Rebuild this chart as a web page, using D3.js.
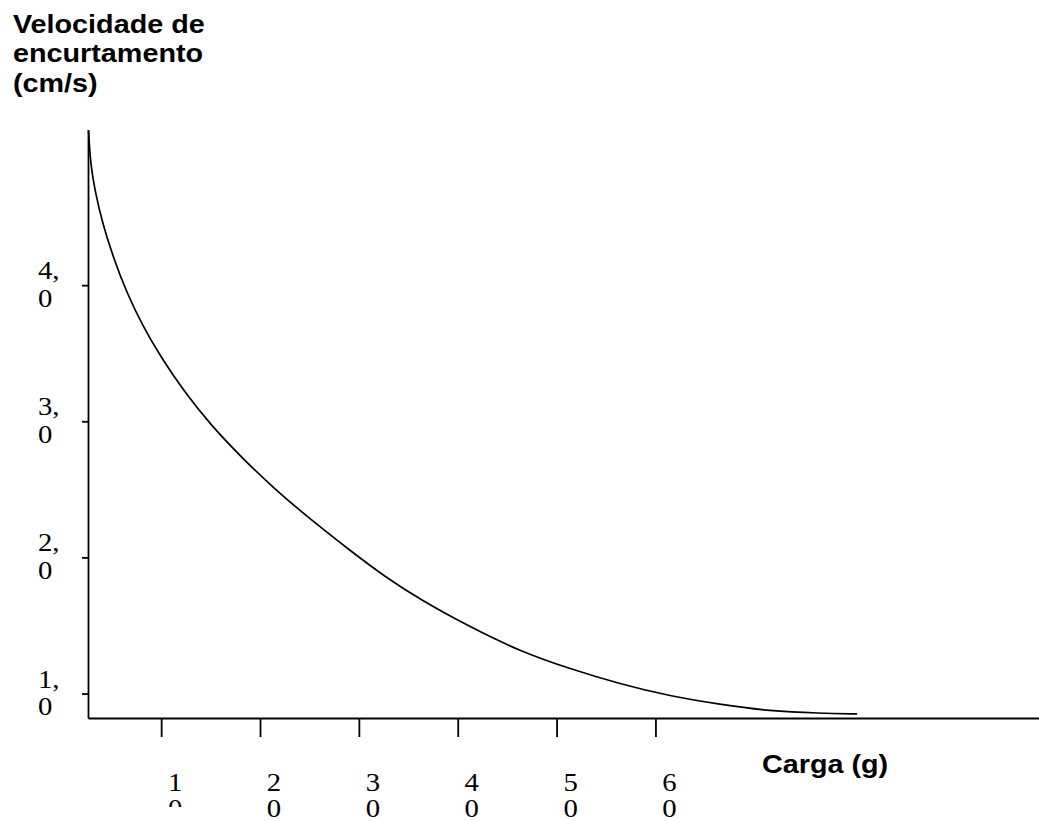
<!DOCTYPE html>
<html>
<head>
<meta charset="utf-8">
<script src="https://cdn.jsdelivr.net/npm/d3@7"></script>
<style>
  body { margin: 0; background: #fff; }
  svg { display: block; }
  .axis path, .axis line { stroke: #000; stroke-width: 1.8; }
  .tick-label { font-family: "Liberation Serif", "Times New Roman", serif; font-size: 25px; fill: #000; }
  .title { font-family: "Liberation Sans", Arial, sans-serif; font-weight: bold; font-size: 25px; fill: #000; }
</style>
</head>
<body>
<div id="chart"></div>
<script>
// data: carga (g) vs velocidade de encurtamento (cm/s)
const carga = [2.65, 2.85, 3.31, 4.12, 5.18, 6.49, 8.06, 9.98, 12.31, 15.04, 18.2, 21.5, 25.6,
  29.3, 32.6, 36.2, 41.2, 46.3, 51.4, 56.4, 61.5, 66.5, 71.6, 76.6, 80.4];
const velocidade = [5.14, 4.89, 4.69, 4.44, 4.20, 3.95, 3.71, 3.47, 3.22, 2.97, 2.73, 2.50, 2.25,
  2.04, 1.86, 1.69, 1.49, 1.31, 1.18, 1.07, 0.98, 0.92, 0.87, 0.855, 0.85];

const xTicks = [10, 20, 30, 40, 50, 60];
const xTickLabels = ['10', '20', '30', '40', '50', '60'];
const yTicks = [1, 2, 3, 4];
const yTickLabels = ['1,0', '2,0', '3,0', '4,0'];

const yTitle = ['Velocidade de', 'encurtamento', '(cm/s)'];
const xTitle = 'Carga (g)';

const width = 1039, height = 821;
const stretch = 1.15; // text in the picture is a little wider than tall

const svg = d3.select('#chart').append('svg')
  .attr('width', width)
  .attr('height', height);

const x = d3.scaleLinear().domain([2.6, 98.8]).range([88, 1039]);
const y = d3.scaleLinear().domain([0.82, 5.14]).range([718, 130]);

// y axis
svg.append('g')
  .attr('class', 'axis')
  .attr('transform', `translate(${x.range()[0]},0)`)
  .call(d3.axisLeft(y).tickValues(yTicks).tickSize(6).tickSizeOuter(0).tickFormat(''));

// x axis
svg.append('g')
  .attr('class', 'axis')
  .attr('transform', `translate(0,${y.range()[0]})`)
  .call(d3.axisBottom(x).tickValues(xTicks).tickSize(19).tickSizeOuter(0).tickFormat(''));

// y tick labels, split on two lines like the source ("4," / "0")
yTicks.forEach((v, i) => {
  const parts = yTickLabels[i].split(',');
  const t = svg.append('text')
    .attr('class', 'tick-label')
    .attr('transform', `translate(38,${y(v) - 6}) scale(${stretch},1)`);
  t.append('tspan').attr('x', 0).attr('dy', 0).text(parts[0] + ',');
  t.append('tspan').attr('x', 0).attr('dy', 28).text(parts[1]);
});

// x tick labels, one digit per line; the first one is cut off in the source
svg.append('clipPath').attr('id', 'clip-first')
  .append('rect').attr('x', 0).attr('y', 0).attr('width', width).attr('height', 807);

xTicks.forEach((v, i) => {
  const digits = xTickLabels[i].split('');
  const g = svg.append('g');
  if (i === 0) g.attr('clip-path', 'url(#clip-first)');
  const t = g.append('text')
    .attr('class', 'tick-label')
    .attr('text-anchor', 'middle')
    .attr('transform', `translate(${x(v) + 14},791) scale(${stretch},1)`);
  digits.forEach((d, k) => {
    t.append('tspan').attr('x', 0).attr('dy', k === 0 ? 0 : 26).text(d);
  });
});

// curve
const line = d3.line()
  .x((d, i) => x(carga[i]))
  .y((d, i) => y(velocidade[i]))
  .curve(d3.curveBasis);

svg.append('path')
  .datum(carga)
  .attr('d', line)
  .attr('fill', 'none')
  .attr('stroke', '#000')
  .attr('stroke-width', 1.7);

// titles
const yt = svg.append('text')
  .attr('class', 'title')
  .attr('transform', `translate(13,33) scale(${stretch},1)`);
yTitle.forEach((s, k) => {
  yt.append('tspan').attr('x', 0).attr('dy', k === 0 ? 0 : 29.5).text(s);
});

svg.append('text')
  .attr('class', 'title')
  .attr('transform', `translate(762,773) scale(${stretch},1)`)
  .text(xTitle);
</script>
</body>
</html>
